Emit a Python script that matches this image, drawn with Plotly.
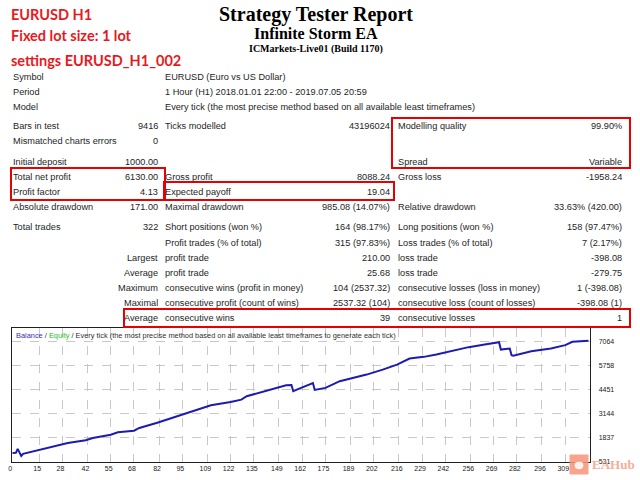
import plotly.graph_objects as go

W, H = 640, 480

# balance curve (trade number -> balance)
trade_no = [0, 2, 3, 5, 6, 8, 17, 27, 31, 41, 45, 55, 59, 68, 71, 81, 94,
            108, 111, 122, 128, 131, 134, 137, 144, 150, 153, 156, 157, 160,
            164, 168, 169, 175, 183, 189, 198, 207, 215, 222, 230, 237, 243,
            255, 264, 272, 273, 278, 279, 280, 290, 301, 309, 313, 322]
balance = [1000, 1010, 1228, 847, 960, 1004, 1235, 1424, 1549, 1696, 1821,
           2001, 2132, 2219, 2366, 2650, 3057, 3493, 3601, 3781, 3906, 4091,
           4178, 4233, 4451, 4636, 4690, 4700, 4364, 4489, 4636, 4810, 4434,
           4543, 4908, 5049, 5267, 5539, 5812, 6138, 6231, 6356, 6500, 6759,
           6900, 7031, 6628, 6683, 6323, 6290, 6541, 6683, 6868, 7047, 7110]

x_ticks = [0, 15, 28, 42, 55, 68, 82, 95, 109, 122, 135, 149, 162, 175, 189,
           202, 216, 229, 242, 256, 269, 282, 296, 309]
y_ticks = [531, 1837, 3144, 4451, 5758, 7064]

# report table, six columns per row
report_rows = [
    ["Symbol", "", "EURUSD (Euro vs US Dollar)", "", "", ""],
    ["Period", "", "1 Hour (H1) 2018.01.01 22:00 - 2019.07.05 20:59", "", "", ""],
    ["Model", "", "Every tick (the most precise method based on all available least timeframes)", "", "", ""],
    ["Bars in test", "9416", "Ticks modelled", "43196024", "Modelling quality", "99.90%"],
    ["Mismatched charts errors", "0", "", "", "", ""],
    ["Initial deposit", "1000.00", "", "", "Spread", "Variable"],
    ["Total net profit", "6130.00", "Gross profit", "8088.24", "Gross loss", "-1958.24"],
    ["Profit factor", "4.13", "Expected payoff", "19.04", "", ""],
    ["Absolute drawdown", "171.00", "Maximal drawdown", "985.08 (14.07%)", "Relative drawdown", "33.63% (420.00)"],
    ["Total trades", "322", "Short positions (won %)", "164 (98.17%)", "Long positions (won %)", "158 (97.47%)"],
    ["", "", "Profit trades (% of total)", "315 (97.83%)", "Loss trades (% of total)", "7 (2.17%)"],
    ["", "Largest", "profit trade", "210.00", "loss trade", "-398.08"],
    ["", "Average", "profit trade", "25.68", "loss trade", "-279.75"],
    ["", "Maximum", "consecutive wins (profit in money)", "104 (2537.32)", "consecutive losses (loss in money)", "1 (-398.08)"],
    ["", "Maximal", "consecutive profit (count of wins)", "2537.32 (104)", "consecutive loss (count of losses)", "-398.08 (1)"],
    ["", "Average", "consecutive wins", "39", "consecutive losses", "1"],
]
row_y = [77, 91.5, 106.5, 126, 141, 161.5, 176.5, 192, 207, 227, 243, 258,
         273, 288, 302.5, 318]
col_x = [11, 160, 163, 392, 396, 624]
col_align = ["left", "right", "left", "right", "left", "right"]

red_notes = ["EURUSD H1", "Fixed lot size: 1 lot", "settings EURUSD_H1_002"]


def px(x):
    return x / W


def py(y):
    return 1 - y / H


fig = go.Figure()

fig.add_trace(go.Scatter(
    x=trade_no,
    y=balance,
    mode='lines',
    line=dict(color='#1c1cb0', width=2),
    name='Balance',
    hoverinfo='skip'
))

grid = dict(showgrid=True, gridcolor='#c8c8c8', griddash='dash', gridwidth=1,
            showline=True, linecolor='#202020', linewidth=1, mirror=True,
            zeroline=False, automargin=False,
            tickfont=dict(family='Liberation Sans', size=7, color='#222222'))

fig.update_layout(
    width=W, height=H,
    margin=dict(l=0, r=0, t=0, b=0),
    paper_bgcolor='white', plot_bgcolor='white',
    showlegend=False,
    xaxis=dict(domain=[px(12.3), px(590.3)], range=[0, 323],
               tickvals=x_ticks, ticktext=[str(v) for v in x_ticks],
               ticks='', ticklabelshift=-2, **grid),
    yaxis=dict(domain=[py(461.7), py(328)], range=[531, 7800], side='right',
               tickvals=y_ticks, ticktext=[str(v) for v in y_ticks],
               ticks='', ticklabelstandoff=6, **grid),
)

# chart caption
fig.add_annotation(
    x=px(14), y=py(335), xref='paper', yref='paper', showarrow=False,
    xanchor='left', yanchor='middle',
    text="<span style='color:#3030c0'>Balance</span> / "
         "<span style='color:#22c022'>Equity</span> / Every tick (the most precise "
         "method based on all available least timeframes to generate each tick)",
    font=dict(family='Liberation Sans', size=7.4, color='#303030'))

# titles
for txt, y, size in [("Strategy Tester Report", 14, 20),
                     ("Infinite Storm EA", 34, 16),
                     ("ICMarkets-Live01 (Build 1170)", 49, 10)]:
    fig.add_annotation(x=px(316), y=py(y), xref='paper', yref='paper',
                       showarrow=False, xanchor='center', yanchor='middle',
                       text='<b>' + txt + '</b>',
                       font=dict(family='Liberation Serif', size=size, color='black'))

# red notes top left
for txt, y in zip(red_notes, [14, 36, 60]):
    fig.add_annotation(x=px(9), y=py(y), xref='paper', yref='paper',
                       showarrow=False, xanchor='left', yanchor='middle',
                       text='<b>' + txt + '</b>',
                       font=dict(family='Lato', size=14.5, color='#e8191e'))

# report table
for y, row in zip(row_y, report_rows):
    for x, align, txt in zip(col_x, col_align, row):
        if txt:
            fig.add_annotation(x=px(x), y=py(y), xref='paper', yref='paper',
                               showarrow=False, xanchor=align, yanchor='middle',
                               text=txt,
                               font=dict(family='Liberation Sans', size=9.2, color='#1e1e1e'))

# red highlight boxes
for x0, y0, x1, y1 in [(392, 118, 630, 168), (11, 168, 165, 200),
                       (164, 182, 394, 200), (124, 309, 630, 327)]:
    fig.add_shape(type='rect', xref='paper', yref='paper',
                  x0=px(x0), x1=px(x1), y0=py(y0), y1=py(y1),
                  line=dict(color='#e60000', width=2))

# EAHub watermark
fig.add_shape(type='rect', xref='paper', yref='paper',
              x0=px(570), x1=px(588), y0=py(474), y1=py(455),
              fillcolor='#f7957a', line=dict(color='#f7957a', width=1),
              opacity=0.85)
fig.add_shape(type='circle', xref='paper', yref='paper',
              x0=px(574), x1=px(584), y0=py(470), y1=py(461),
              fillcolor='white', line=dict(color='#f7957a', width=1),
              opacity=0.85)
fig.add_annotation(x=px(590), y=py(464), xref='paper', yref='paper',
                   showarrow=False, xanchor='left', yanchor='middle',
                   text='<b>EAHub</b>', opacity=0.8,
                   font=dict(family='Liberation Serif', size=13, color='#f39a82'))

# drop the page's default body margin so the figure sits at the window corner
fig.write_html("out.html", config={'displayModeBar': False},
               post_script="document.body.style.margin='0';")
